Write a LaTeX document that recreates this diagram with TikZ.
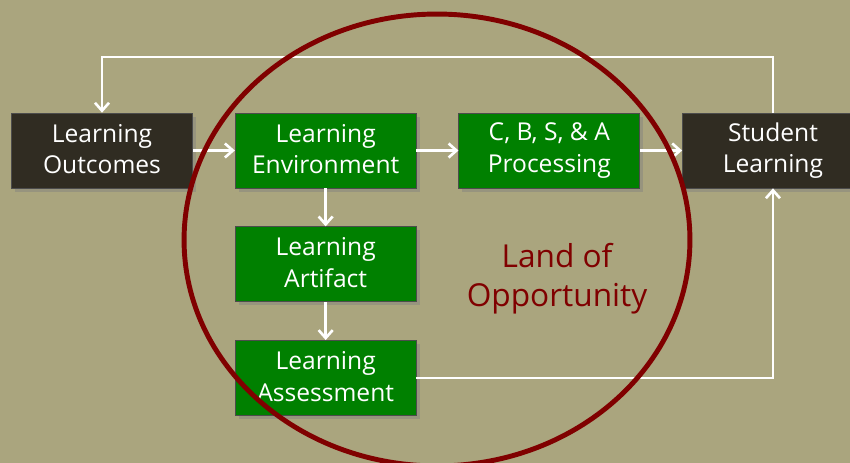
\documentclass[tikz,border=0pt]{standalone}
\usepackage{fontspec}
\setmainfont{Open Sans}
\usepackage{tikz}
\usetikzlibrary{arrows.meta,positioning,shadows}

\definecolor{khaki}{RGB}{170,165,126}
\definecolor{boxgreen}{RGB}{0,128,0}
\definecolor{boxdark}{RGB}{48,44,34}
\definecolor{ringred}{RGB}{128,0,0}

\newcommand{\bxstrut}{\vrule height 12.3pt depth 1.7pt width 0pt}

\begin{document}
\begin{tikzpicture}[x=0.02cm, y=-0.02cm, node distance=0.84cm]
    \tikzstyle{blk}=[rectangle, minimum width=3.62cm, minimum height=1.5cm, inner sep=0pt,
      draw=black!70, text=white, align=center, font=\fontsize{14}{18}\selectfont,
      execute at begin node=\bxstrut, execute at end node=\bxstrut,
      drop shadow={shadow xshift=2pt, shadow yshift=-2pt, opacity=0.45}]
    \tikzstyle{dk}=[blk, fill=boxdark]
    \tikzstyle{gr}=[blk, fill=boxgreen]
    \tikzstyle{fl}=[-{Straight Barb[length=4.5pt, width=8pt, line width=1.5pt]}, draw=white, line width=1.5pt]

    \useasboundingbox (0,0) rectangle (850,463);
    \clip (0,0) rectangle (850,463);
    \fill[khaki] (0,0) rectangle (850,463);

    \node[dk] (LO) at (102,150.5) {Learning\\Outcomes};
    \node[gr] (LE) [right=of LO] {Learning\\Environment};
    \node[gr] (CP) [right=of LE] {C, B, S, \& A\\Processing};
    \node[dk] (SL) [right=of CP] {Student\\Learning};
    \node[gr] (LAr) [below=0.76cm of LE] {Learning\\Artifact};
    \node[gr] (LAs) [below=0.76cm of LAr] {Learning\\Assessment};

    \node[text=ringred, align=center, font=\fontsize{18}{22}\selectfont] (LOp) at (557,279) {Land of\\Opportunity};

    \coordinate (top) at (0,57);

    % les fleches...
    \draw[fl] (LO) to (LE);
    \draw[fl] (LE) to (CP);
    \draw[fl] (CP) to (SL);
    \draw[fl] (LE) to (LAr);
    \draw[fl] (LAr) to (LAs);
    \draw[fl] (LAs.east) -| (SL.south);
    \draw[fl] (SL.north) -- (SL.north |- top) -| (LO.north);

    \draw[ringred, line width=2.8pt] (437,240) ellipse [x radius=5.06cm, y radius=4.52cm];
\end{tikzpicture}
\end{document}
